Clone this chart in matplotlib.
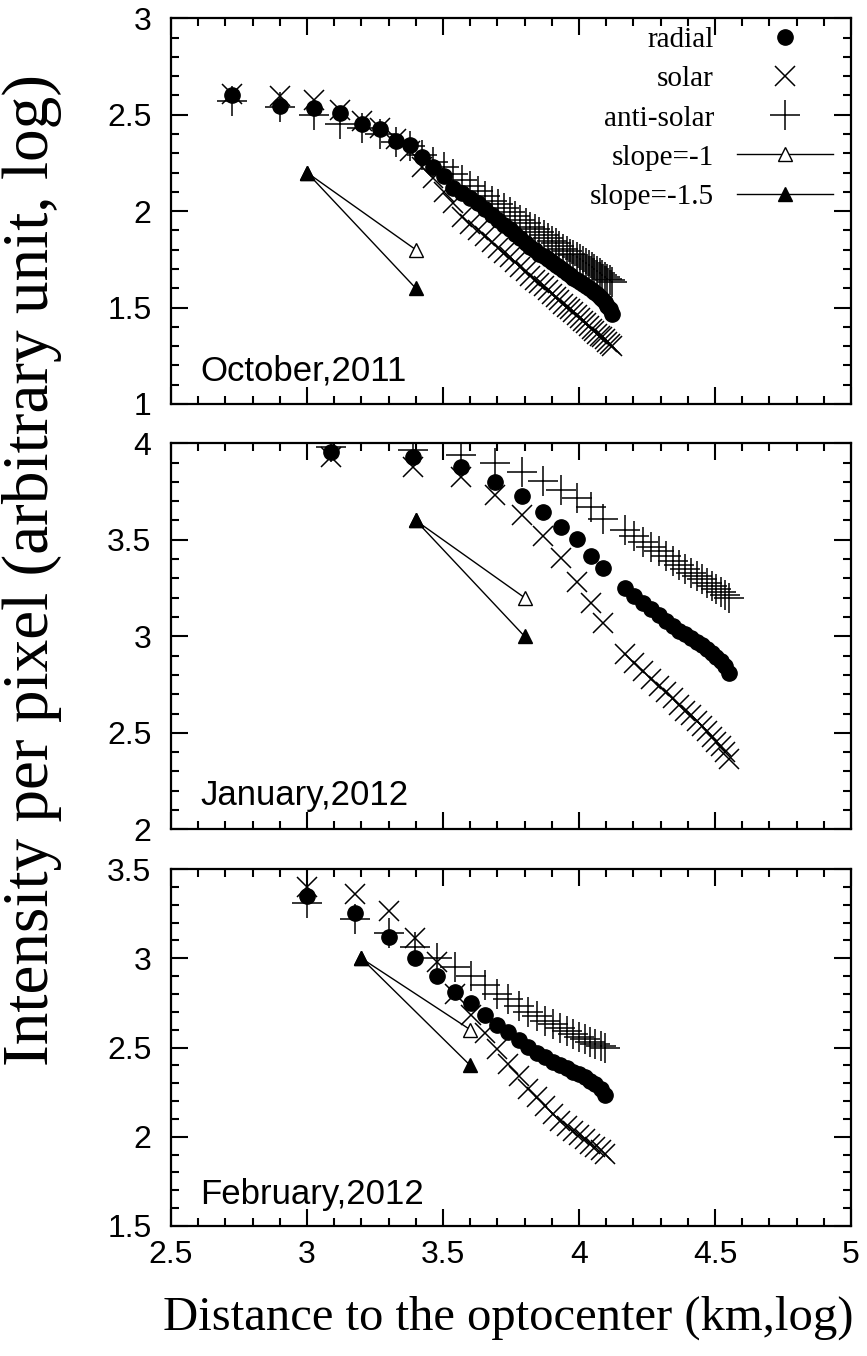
import matplotlib
matplotlib.use("Agg")
import matplotlib.pyplot as plt
import numpy as np
from matplotlib.ticker import MultipleLocator

# distance bins (km) for each observing run
dist_oct = [530, 795, 1060, 1325, 1590, 1855, 2120, 2385, 2650, 2915, 3180, 3445,
            3710, 3975, 4240, 4505, 4770, 5035, 5300, 5565, 5830, 6095, 6360, 6625,
            6890, 7155, 7420, 7685, 7950, 8215, 8480, 8745, 9010, 9275, 9540, 9805,
            10070, 10335, 10600, 10865, 11130, 11395, 11660, 11925, 12190, 12455,
            12720, 12985, 13250]
radial_oct = [2.60, 2.547, 2.533, 2.51, 2.452, 2.426, 2.364, 2.343, 2.282, 2.229, 2.182, 2.122,
              2.094, 2.07, 2.04, 2.01, 1.98, 1.955, 1.93, 1.905, 1.88, 1.86, 1.835, 1.815,
              1.80, 1.78, 1.765, 1.75, 1.735, 1.72, 1.71, 1.695, 1.68, 1.67, 1.655, 1.645,
              1.635, 1.62, 1.61, 1.60, 1.59, 1.58, 1.57, 1.555, 1.545, 1.53, 1.51, 1.49, 1.465]
solar_oct = [2.61, 2.595, 2.575, 2.525, 2.465, 2.43, 2.375, 2.31, 2.23, 2.17, 2.10, 2.04,
             1.97, 1.935, 1.90, 1.87, 1.84, 1.81, 1.785, 1.76, 1.735, 1.71, 1.69, 1.665,
             1.645, 1.625, 1.61, 1.59, 1.57, 1.555, 1.54, 1.52, 1.505, 1.49, 1.475, 1.46,
             1.445, 1.43, 1.42, 1.405, 1.39, 1.38, 1.365, 1.355, 1.345, 1.335, 1.32, 1.31, 1.30]
anti_oct = [2.57, 2.54, 2.50, 2.45, 2.43, 2.40, 2.36, 2.34, 2.29, 2.255, 2.23, 2.19,
            2.16, 2.13, 2.105, 2.08, 2.055, 2.035, 2.015, 1.995, 1.975, 1.955, 1.94, 1.92,
            1.905, 1.89, 1.875, 1.86, 1.845, 1.835, 1.82, 1.805, 1.795, 1.78, 1.77, 1.76,
            1.75, 1.74, 1.73, 1.72, 1.71, 1.70, 1.69, 1.68, 1.67, 1.66, 1.65, 1.645, 1.635]

dist_jan = [1230, 2460, 3690, 4920, 6150, 7380, 8610, 9840, 11070, 12300,
            14760, 15990, 17220, 18450, 19680, 20910, 22140, 23370, 24600, 25830,
            27060, 28290, 29520, 30750, 31980, 33210, 34440, 35670]
radial_jan = [3.956, 3.931, 3.879, 3.80, 3.727, 3.646, 3.565, 3.505, 3.415, 3.352,
              3.25, 3.21, 3.17, 3.14, 3.11, 3.08, 3.055, 3.03, 3.01, 2.99,
              2.97, 2.955, 2.935, 2.915, 2.895, 2.87, 2.845, 2.81]
solar_jan = [3.93, 3.879, 3.827, 3.732, 3.628, 3.52, 3.404, 3.283, 3.174, 3.067,
             2.91, 2.86, 2.82, 2.78, 2.74, 2.71, 2.68, 2.645, 2.615, 2.59,
             2.56, 2.535, 2.51, 2.48, 2.455, 2.43, 2.40, 2.365]
anti_jan = [3.98, 3.965, 3.94, 3.896, 3.853, 3.805, 3.76, 3.716, 3.67, 3.61,
            3.55, 3.52, 3.49, 3.465, 3.44, 3.415, 3.39, 3.37, 3.35, 3.33,
            3.31, 3.295, 3.275, 3.26, 3.245, 3.23, 3.215, 3.20]

dist_feb = [1000, 1500, 2000, 2500, 3000, 3500, 4000, 4500, 5000, 5500, 6000, 6500,
            7000, 7500, 8000, 8500, 9000, 9500, 10000, 10500, 11000, 11500, 12000, 12500]
radial_feb = [3.35, 3.255, 3.117, 3.0, 2.90, 2.81, 2.748, 2.68, 2.625, 2.585, 2.54, 2.505,
              2.47, 2.445, 2.42, 2.40, 2.385, 2.365, 2.35, 2.335, 2.315, 2.295, 2.27, 2.235]
solar_feb = [3.40, 3.36, 3.265, 3.115, 2.98, 2.80, 2.68, 2.58, 2.49, 2.41, 2.34, 2.27,
             2.22, 2.17, 2.13, 2.09, 2.06, 2.03, 2.01, 1.985, 1.96, 1.945, 1.925, 1.905]
anti_feb = [3.31, 3.22, 3.14, 3.065, 3.0, 2.95, 2.90, 2.85, 2.80, 2.77, 2.73, 2.70,
            2.675, 2.65, 2.63, 2.61, 2.59, 2.575, 2.56, 2.545, 2.53, 2.52, 2.51, 2.50]

# reference slopes: start point, end of slope=-1, end of slope=-1.5
slope_start = [(3.0, 2.2), (3.4, 3.6), (3.2, 3.0)]
slope1_end = [(3.4, 1.8), (3.8, 3.2), (3.6, 2.6)]
slope15_end = [(3.4, 1.6), (3.8, 3.0), (3.6, 2.4)]

months = ["October,2011", "January,2012", "February,2012"]
ylims = [(1, 3), (2, 4), (1.5, 3.5)]

sans = "Liberation Sans"
serif = "Liberation Serif"

fig = plt.figure(figsize=(8.67, 13.56), dpi=100)
boxes = [(0.1972, 0.7021, 0.7843, 0.2844),
         (0.1972, 0.3884, 0.7843, 0.2847),
         (0.1972, 0.0959, 0.7843, 0.2632)]

panels = [(dist_oct, radial_oct, solar_oct, anti_oct),
          (dist_jan, radial_jan, solar_jan, anti_jan),
          (dist_feb, radial_feb, solar_feb, anti_feb)]

for i, (dist, radial, solar, anti) in enumerate(panels):
    ax = fig.add_axes(boxes[i])
    lx = np.log10(dist)
    ax.plot(lx, radial, 'o', color='k', ms=11, label='radial', zorder=4)
    ax.plot(lx, solar, 'x', color='k', ms=14, mew=1.1, label='solar', zorder=3)
    ax.plot(lx, anti, '+', color='k', ms=22, mew=1.1, label='anti-solar', zorder=3)

    x0, y0 = slope_start[i]
    x1, y1 = slope1_end[i]
    x2, y2 = slope15_end[i]
    ax.plot([x0, x1], [y0, y1], '-^', color='k', mfc='white', ms=10, lw=1,
            label='slope=-1')
    ax.plot([x0, x2], [y0, y2], '-^', color='k', ms=10, lw=1,
            label='slope=-1.5')

    ax.set_xlim(2.5, 5)
    ax.set_ylim(*ylims[i])
    ax.xaxis.set_major_locator(MultipleLocator(0.5))
    ax.xaxis.set_minor_locator(MultipleLocator(0.1))
    ax.yaxis.set_major_locator(MultipleLocator(0.5))
    ax.yaxis.set_minor_locator(MultipleLocator(0.1))
    ax.tick_params(which='both', direction='in', top=True, right=True, width=1.5)
    ax.tick_params(which='major', length=12, labelsize=23, pad=10)
    ax.tick_params(which='minor', length=6)
    ax.tick_params(axis='y', pad=14)
    for s in ax.spines.values():
        s.set_linewidth(1.6)
    ax.yaxis.set_major_formatter(plt.FuncFormatter(lambda v, p: f"{v:g}"))
    ax.xaxis.set_major_formatter(plt.FuncFormatter(lambda v, p: f"{v:g}"))
    for lab in ax.get_xticklabels() + ax.get_yticklabels():
        lab.set_fontfamily(sans)
    if i < 2:
        ax.tick_params(labelbottom=False)

    ax.text(0.043, 0.062, months[i], transform=ax.transAxes, fontsize=25,
            family=sans, va='baseline', ha='left')

    if i == 0:
        ax.legend(loc='upper right', bbox_to_anchor=(1.0, 1.0233), frameon=False,
                  markerfirst=False, numpoints=1,
                  prop={'family': serif, 'size': 21}, handlelength=3.3,
                  handletextpad=0.8, labelspacing=0.436, borderpad=0.0,
                  borderaxespad=0.6)

fig.text(0.037, 0.58, "Intensity per pixel (arbitrary unit, log)", rotation=90,
         family=serif, fontsize=47, ha='center', va='center')
fig.text(0.586, 0.028, "Distance to the optocenter (km,log)",
         family=serif, fontsize=35, ha='center', va='center')

fig.savefig("out.png", dpi=100)
